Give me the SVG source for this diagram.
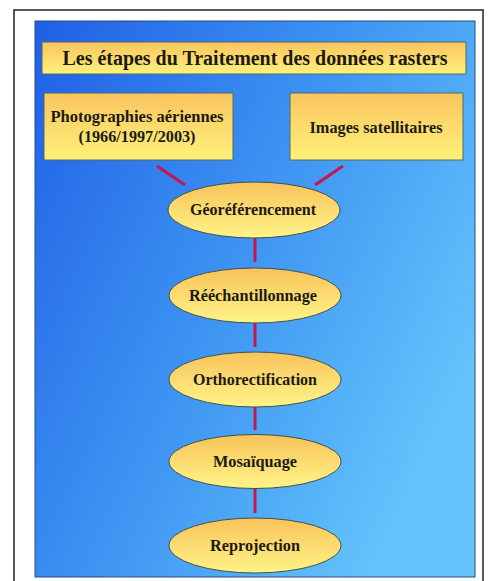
<svg xmlns="http://www.w3.org/2000/svg" width="488" height="581" viewBox="0 0 488 581">
<defs>
<linearGradient id="bg" x1="0" y1="0" x2="1" y2="0.6">
<stop offset="0" stop-color="#1f5fe6"/>
<stop offset="0.55" stop-color="#3f96f2"/>
<stop offset="1" stop-color="#63c3fb"/>
</linearGradient>
<linearGradient id="box" x1="0" y1="0" x2="0" y2="1">
<stop offset="0" stop-color="#f9c45e"/>
<stop offset="1" stop-color="#fff27a"/>
</linearGradient>
<linearGradient id="ell" x1="0" y1="0" x2="0" y2="1">
<stop offset="0" stop-color="#f8c35a"/>
<stop offset="1" stop-color="#fff488"/>
</linearGradient>
<style>
.box{fill:url(#box);stroke:#4d6b6b;stroke-width:1}
.ell{fill:url(#ell);stroke:#3f4f4f;stroke-width:1}
.t{font-family:"Liberation Serif","Times New Roman",serif;font-weight:bold;fill:#1c1a14;text-anchor:middle}
.c{stroke:#c4174e;stroke-width:3;fill:none}
</style>
</defs>
<rect x="0" y="0" width="488" height="581" fill="#ffffff"/>
<rect x="14" y="10" width="469" height="590" fill="none" stroke="#222" stroke-width="1.5"/>
<rect x="35" y="21" width="440" height="556" fill="url(#bg)" stroke="#2a4a8a" stroke-width="1"/>
<g id="connectors">
<line class="c" x1="157" y1="166" x2="185" y2="185"/>
<line class="c" x1="343" y1="166" x2="315" y2="185"/>
<line class="c" x1="255" y1="238" x2="255" y2="262"/>
<line class="c" x1="255" y1="323" x2="255" y2="347"/>
<line class="c" x1="255" y1="407" x2="255" y2="430"/>
<line class="c" x1="255" y1="489" x2="255" y2="513"/>
</g>
<g id="title">
<rect class="box" x="42" y="42" width="424" height="32"/>
<text class="t" x="255" y="65" font-size="20" textLength="385" lengthAdjust="spacingAndGlyphs">Les étapes du Traitement des données rasters</text>
</g>
<g id="photos">
<rect class="box" x="44" y="93" width="189" height="67"/>
<text class="t" x="137" y="122" font-size="16" textLength="173" lengthAdjust="spacingAndGlyphs">Photographies aériennes</text>
<text class="t" x="137" y="142" font-size="16" textLength="117" lengthAdjust="spacingAndGlyphs">(1966/1997/2003)</text>
</g>
<g id="satellites">
<rect class="box" x="290" y="93" width="173" height="67"/>
<text class="t" x="376" y="133" font-size="16" textLength="133" lengthAdjust="spacingAndGlyphs">Images satellitaires</text>
</g>
<g id="georef">
<ellipse class="ell" cx="254" cy="210" rx="86" ry="28"/>
<text class="t" x="253" y="215" font-size="16" textLength="126" lengthAdjust="spacingAndGlyphs">Géoréférencement</text>
</g>
<g id="reech">
<ellipse class="ell" cx="255" cy="295.5" rx="86" ry="27.5"/>
<text class="t" x="253" y="300.5" font-size="16" textLength="128" lengthAdjust="spacingAndGlyphs">Rééchantillonnage</text>
</g>
<g id="ortho">
<ellipse class="ell" cx="255" cy="379.5" rx="86" ry="27.5"/>
<text class="t" x="255" y="384.5" font-size="16" textLength="124" lengthAdjust="spacingAndGlyphs">Orthorectification</text>
</g>
<g id="mosaic">
<ellipse class="ell" cx="255" cy="461.5" rx="86" ry="27"/>
<text class="t" x="255" y="466.5" font-size="16" textLength="84" lengthAdjust="spacingAndGlyphs">Mosaïquage</text>
</g>
<g id="reproj">
<ellipse class="ell" cx="255" cy="545.5" rx="86" ry="27.5"/>
<text class="t" x="255" y="550.5" font-size="16" textLength="90" lengthAdjust="spacingAndGlyphs">Reprojection</text>
</g>
</svg>
